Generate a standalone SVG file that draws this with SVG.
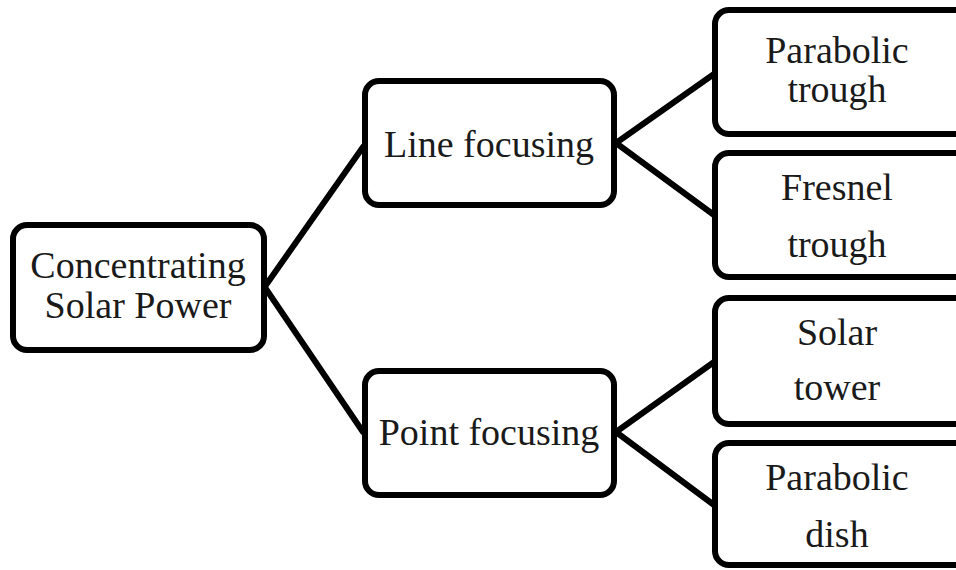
<svg xmlns="http://www.w3.org/2000/svg" width="956" height="570" viewBox="0 0 956 570">
<style>
.box{fill:#fff;stroke:#000;stroke-width:6}
.c{stroke:#000;stroke-width:6;fill:none;stroke-linecap:round}
</style>
<rect width="956" height="570" fill="#fff"/>
<g id="connectors">
<line class="c" x1="266" y1="285" x2="363" y2="147"/>
<line class="c" x1="266" y1="289" x2="363" y2="432"/>
<line class="c" x1="616" y1="143" x2="714" y2="74"/>
<line class="c" x1="616" y1="143" x2="714" y2="215"/>
<line class="c" x1="616" y1="432" x2="714" y2="362"/>
<line class="c" x1="616" y1="432" x2="714" y2="505"/>
</g>
<g font-family="Liberation Serif, DejaVu Serif, serif" font-size="38" fill="#1a1a1a" text-anchor="middle">
<g id="root">
<rect class="box" x="13" y="225" width="251" height="125" rx="14"/>
<text x="138" y="278">Concentrating</text>
<text x="138" y="318">Solar Power</text>
</g>
<g id="line-focusing">
<rect class="box" x="365" y="81" width="249" height="124" rx="14"/>
<text x="489" y="157">Line focusing</text>
</g>
<g id="point-focusing">
<rect class="box" x="365" y="371" width="249" height="124" rx="14"/>
<text x="489" y="445">Point focusing</text>
</g>
<g id="parabolic-trough">
<rect class="box" x="715" y="10" width="260" height="124" rx="14"/>
<text x="837" y="63">Parabolic</text>
<text x="837" y="102">trough</text>
</g>
<g id="fresnel-trough">
<rect class="box" x="715" y="153" width="260" height="124" rx="14"/>
<text x="837" y="200">Fresnel</text>
<text x="837" y="257">trough</text>
</g>
<g id="solar-tower">
<rect class="box" x="715" y="298" width="260" height="126" rx="14"/>
<text x="837" y="345">Solar</text>
<text x="837" y="400">tower</text>
</g>
<g id="parabolic-dish">
<rect class="box" x="715" y="443" width="260" height="122" rx="14"/>
<text x="837" y="490">Parabolic</text>
<text x="837" y="547">dish</text>
</g>
</g>
</svg>
